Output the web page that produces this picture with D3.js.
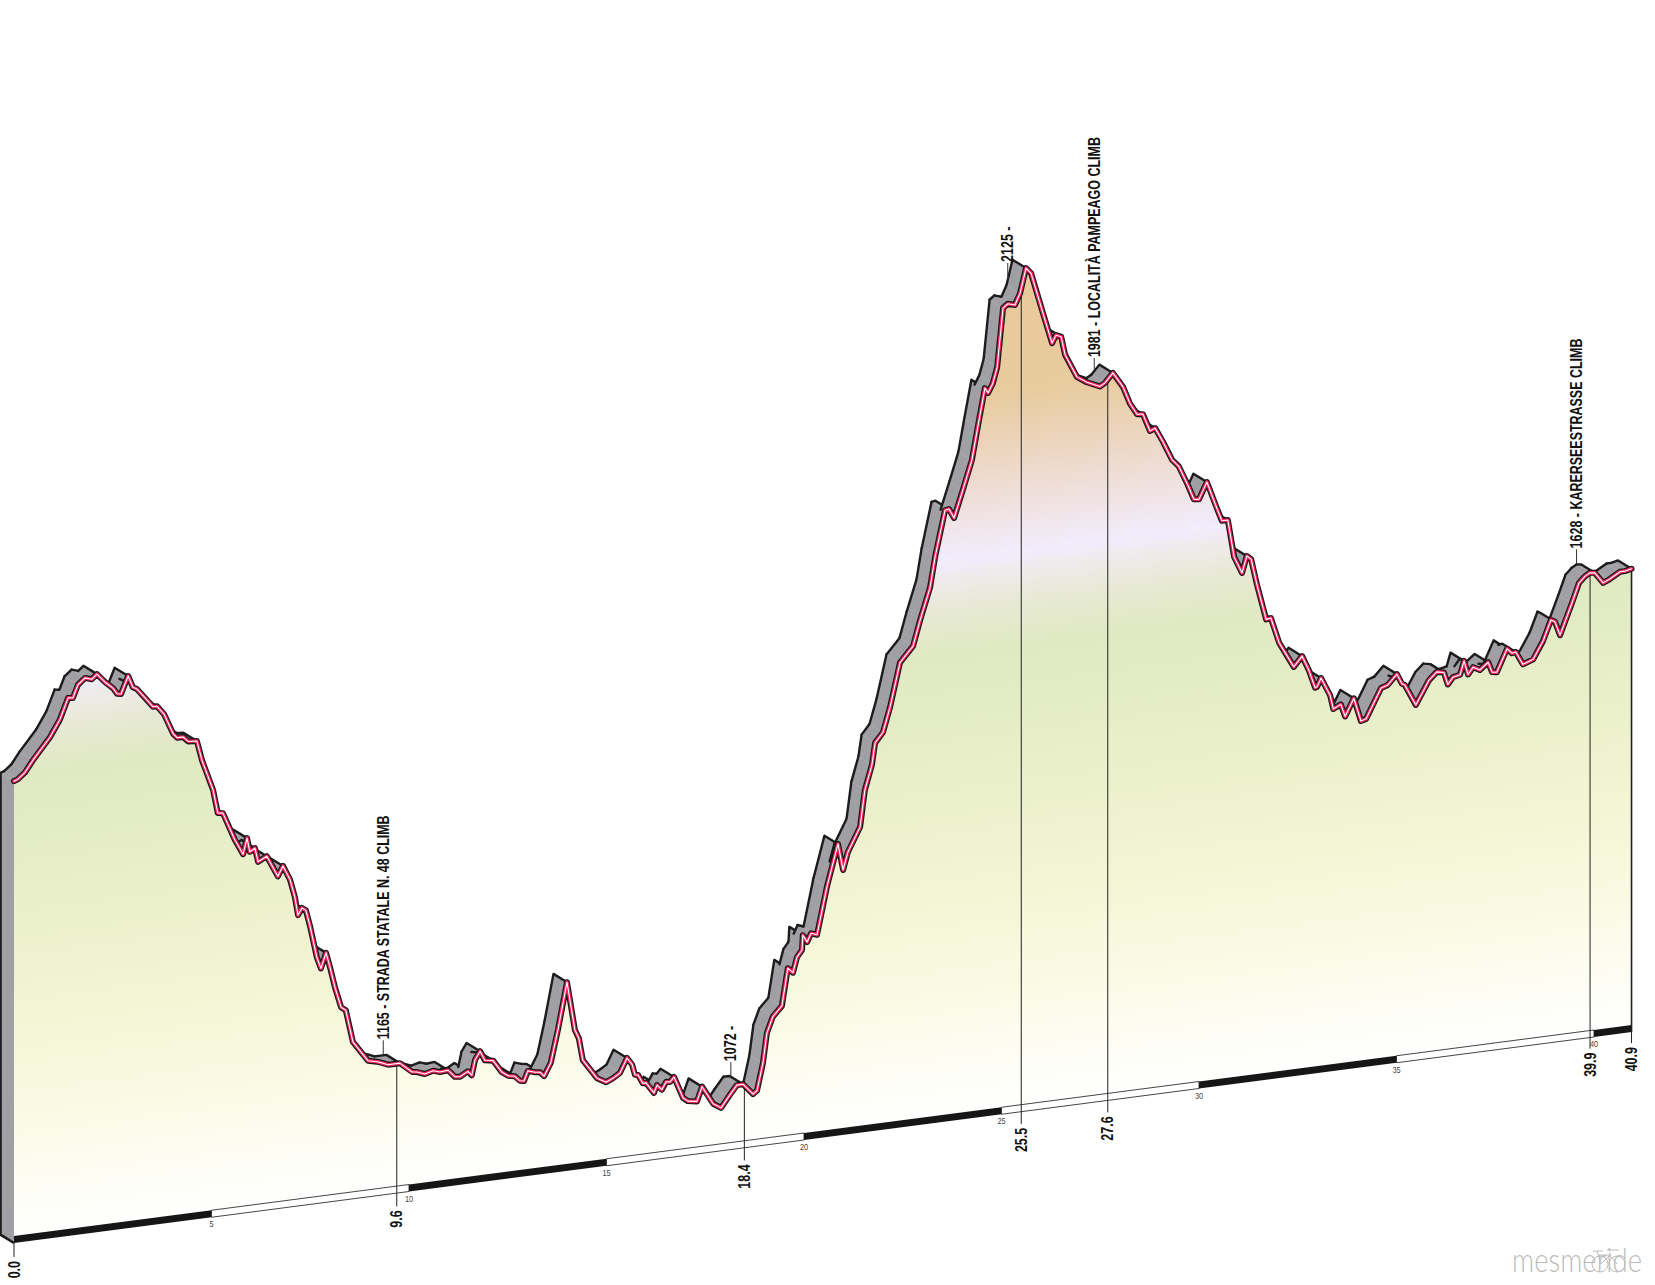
<!DOCTYPE html>
<html>
<head>
<meta charset="utf-8">
<script src="https://cdn.jsdelivr.net/npm/d3@7"></script>
<style>
  body { margin: 0; background: #fff; }
  svg { display: block; }
  text { font-family: "Liberation Sans", sans-serif; }
</style>
</head>
<body>
<svg width="1655" height="1285"></svg>
<script>
// profile
const km = [0,.10,.28,.48,.91,1.16,1.37,1.49,1.62,1.80,1.97,2.10,2.30,2.51,2.61,2.71,2.89,3.01,3.11,3.37,3.52,3.62,3.80,4.03,4.13,4.28,4.41,4.63,4.76,5.04,5.16,5.29,5.59,5.80,5.90,5.97,6.10,6.18,6.40,6.68,6.81,6.99,7.11,7.19,7.29,7.39,7.49,7.67,7.77,7.90,8.00,8.13,8.28,8.40,8.58,8.96,9.19,9.34,9.47,9.77,10.08,10.20,10.40,10.61,10.78,10.99,11.16,11.29,11.49,11.59,11.67,11.80,11.92,12.13,12.35,12.51,12.68,12.81,12.91,13.01,13.19,13.32,13.42,13.59,13.77,14.00,14.20,14.30,14.40,14.76,14.99,15.16,15.34,15.52,15.65,15.72,15.80,15.92,16.00,16.20,16.28,16.40,16.51,16.61,16.71,16.94,17.06,17.29,17.42,17.70,17.90,18.08,18.30,18.46,18.71,18.81,18.96,19.06,19.21,19.44,19.59,19.72,19.82,19.95,19.97,20.08,20.18,20.33,20.58,20.86,20.99,21.11,21.42,21.54,21.72,21.80,22.00,22.18,22.43,22.76,22.94,23.19,23.32,23.57,23.67,23.80,24.02,24.25,24.40,24.58,24.66,24.78,24.89,25.04,25.16,25.34,25.47,25.62,25.75,26.05,26.28,26.38,26.51,26.61,26.91,27.16,27.49,27.62,27.82,28.08,28.25,28.43,28.58,28.76,28.89,29.09,29.32,29.49,29.72,29.87,30.00,30.20,30.43,30.58,30.73,30.89,31.09,31.21,31.32,31.47,31.70,31.82,32.03,32.40,32.61,32.78,32.94,32.99,33.09,33.32,33.40,33.59,33.70,33.92,34.10,34.23,34.61,34.78,35.01,35.14,35.21,35.49,35.82,36.02,36.20,36.30,36.43,36.61,36.71,36.81,36.94,37.11,37.32,37.42,37.54,37.80,37.92,38.02,38.20,38.46,38.71,38.91,39.01,39.14,39.44,39.62,39.77,39.90,40.02,40.23,40.40,40.66,40.78,40.95];
const ele = [1610,1612,1620,1635,1663,1685,1713,1712,1729,1737,1734,1740,1728,1718,1710,1709,1732,1716,1713,1696,1686,1686,1674,1646,1640,1640,1633,1632,1605,1563,1531,1530,1492,1471,1492,1473,1477,1458,1464,1435,1448,1428,1404,1379,1388,1384,1363,1318,1303,1323,1303,1274,1247,1242,1198,1170,1167,1164,1161,1161,1147,1146,1142,1145,1142,1143,1133,1132,1138,1132,1152,1163,1150,1148,1131,1125,1123,1116,1115,1128,1125,1124,1118,1135,1178,1241,1175,1163,1133,1106,1099,1103,1109,1128,1118,1104,1103,1091,1091,1076,1086,1079,1089,1088,1094,1064,1059,1057,1076,1051,1044,1057,1072,1072,1057,1061,1097,1137,1158,1171,1221,1214,1234,1243,1263,1253,1264,1261,1324,1380,1344,1367,1399,1448,1481,1510,1523,1556,1614,1634,1668,1710,1751,1812,1813,1800,1836,1875,1919,1970,1963,1975,1996,2075,2080,2077,2092,2125,2117,2061,2019,2029,2026,2001,1969,1960,1952,1956,1968,1947,1924,1908,1907,1883,1886,1866,1840,1830,1803,1783,1782,1804,1770,1749,1749,1698,1675,1697,1692,1656,1608,1609,1574,1539,1552,1532,1507,1508,1519,1494,1475,1480,1463,1486,1454,1456,1495,1498,1511,1497,1495,1466,1497,1507,1505,1488,1497,1499,1517,1498,1507,1502,1511,1497,1496,1526,1519,1520,1502,1507,1530,1557,1554,1535,1576,1602,1610,1614,1613,1598,1602,1610,1610,1612];

// markers along the route
const markerKm = [0, 9.69, 18.49, 25.5, 27.69, 39.9, 40.95];
const markerText = ["0.0", "9.6", "18.4", "25.5", "27.6", "39.9", "40.9"];
const climbKm = [9.69, 18.49, 25.5, 27.69, 39.9];
const climbText = ["1165 - STRADA STATALE N. 48 CLIMB", "1072 -", "2125 -", "1981 - LOCALITÀ PAMPEAGO CLIMB", "1628 - KARERSEESTRASSE CLIMB"];
const leaderLen = [15, 15, 17, 13, 15];
const kmTicks = [5, 10, 15, 20, 25, 30, 35, 40];
const bandEdges = [0, 5, 10, 15, 20, 25, 30, 35, 40, 40.95];

// hypsometric tint, by elevation
const tintEle = [986, 1067, 1162, 1310, 1459, 1614, 1675, 1716, 1743, 1851, 1959, 2135];
const tintColor = ["#ffffff", "#fdfdf4", "#fafae4", "#f3f4d2", "#e8efc9", "#e0e9c1", "#e7e9d4", "#edebea", "#f2ecfc", "#eedacd", "#e8cb9e", "#e8c99b"];

const svg = d3.select("svg");

// oblique projection: baseline climbs to the right, ridge goes back up-left
const xScale = d3.scaleLinear().domain([0, 40]).range([14, 1594]);
const baseScale = d3.scaleLinear().domain([0, 40]).range([1243, 1037]);
const riseScale = d3.scaleLinear().domain([986, 2125]).range([0, 843]);
const backX = -13.5, backY = -8.3, bandH = 7;
const narrow = 0.78; // no condensed face installed, squeeze the regular one

const yAt = (k, e) => baseScale(k) - riseScale(e);
const pts = km.map((k, i) => [xScale(k), yAt(k, ele[i])]);
const back = p => [p[0] + backX, p[1] + backY];

const bis = d3.bisector(d => d).left;
function eleAt(k) {
  const i = Math.min(Math.max(bis(km, k), 1), km.length - 1);
  const t = (k - km[i - 1]) / (km[i] - km[i - 1]);
  return ele[i - 1] + (ele[i] - ele[i - 1]) * t;
}

const line = d3.line();

// gradient runs square to the baseline so colour bands tilt with it
const slope = (baseScale(0) - baseScale(40)) / (xScale(40) - xScale(0));
const gx0 = xScale(0), gy0 = baseScale(0);
const gLen = riseScale(tintEle[tintEle.length - 1]) / (1 + slope * slope);
const grad = svg.append("defs").append("linearGradient")
  .attr("id", "tint")
  .attr("gradientUnits", "userSpaceOnUse")
  .attr("x1", gx0).attr("y1", gy0)
  .attr("x2", gx0 - slope * gLen).attr("y2", gy0 - gLen);
grad.selectAll("stop").data(tintEle).join("stop")
  .attr("offset", d => riseScale(d) / riseScale(tintEle[tintEle.length - 1]))
  .attr("stop-color", (d, i) => tintColor[i]);

// left wall
const wallTop = pts[0], wallBot = [xScale(0), baseScale(0)];
svg.append("path")
  .attr("d", line([wallTop, back(wallTop), back(wallBot), wallBot]) + "Z")
  .attr("fill", "#a0a0a4");
svg.append("path")
  .attr("d", line([back(wallTop), back(wallBot), wallBot]))
  .attr("fill", "none").attr("stroke", "#1c1c1c").attr("stroke-width", 2.6);

// ridge ribbon, left to right so nearer quads paint over
const ribbon = svg.append("g");
pts.slice(1).forEach((q, i) => {
  const p = pts[i];
  const facing = (q[0] - p[0]) * backY - (q[1] - p[1]) * backX < 0;
  if (!facing) return;
  const next = pts[i + 2];
  const nextFacing = next && (next[0] - q[0]) * backY - (next[1] - q[1]) * backX < 0;
  ribbon.append("path")
    .attr("d", line([p, q, back(q), back(p)]) + "Z")
    .attr("fill", "#a0a0a4").attr("stroke", "#a8a8ab").attr("stroke-width", 0.6);
  const edge = nextFacing ? [back(p), back(q)] : [back(p), back(q), q];
  ribbon.append("path")
    .attr("d", line(edge))
    .attr("fill", "none").attr("stroke", "#1c1c1c")
    .attr("stroke-width", 2.4).attr("stroke-linejoin", "round").attr("stroke-linecap", "round");
});

// front face
const last = km.length - 1;
svg.append("path")
  .attr("d", line(pts.concat([[xScale(km[last]), baseScale(km[last])], [xScale(0), baseScale(0)]])) + "Z")
  .attr("fill", "url(#tint)");

// right edge
svg.append("line")
  .attr("x1", pts[last][0]).attr("x2", pts[last][0])
  .attr("y1", pts[last][1]).attr("y2", baseScale(km[last]))
  .attr("stroke", "#222").attr("stroke-width", 1.6);

// km band
d3.pairs(bandEdges).forEach((pair, i) => {
  const [a, b] = pair;
  const quad = [[xScale(a), baseScale(a)], [xScale(b), baseScale(b)],
                [xScale(b), baseScale(b) - bandH], [xScale(a), baseScale(a) - bandH]];
  svg.append("path")
    .attr("d", line(quad) + "Z")
    .attr("fill", i % 2 ? "#fff" : "#161616")
    .attr("stroke", "#161616").attr("stroke-width", i % 2 ? 0.8 : 0);
});

svg.selectAll(".tick-label").data(kmTicks).join("text")
  .attr("class", "tick-label")
  .attr("transform", d => `translate(${xScale(d)},${baseScale(d) + 10}) scale(${narrow},1)`)
  .attr("text-anchor", "middle")
  .attr("font-size", 9.5)
  .attr("fill", "#444")
  .text(d => d);

// drop lines and km labels
const dropLen = d3.scaleLinear().domain([0, 41]).range([14, 11]);
markerKm.forEach((k, i) => {
  const x = xScale(k);
  const top = i === 0 ? baseScale(k) : yAt(k, eleAt(k));
  const bottom = baseScale(k) + dropLen(k);
  svg.append("line")
    .attr("x1", x).attr("x2", x).attr("y1", top).attr("y2", bottom)
    .attr("stroke", "#222").attr("stroke-width", 1);
  svg.append("text")
    .attr("transform", `translate(${x + 5.5},${bottom + 4}) rotate(-90) scale(${narrow},1)`)
    .attr("text-anchor", "end")
    .attr("font-size", 16).attr("font-weight", 700).attr("fill", "#111")
    .text(markerText[i]);
});

// pink road line: black, pink, white core
[["#161616", 6], ["#f0245f", 3.6], ["#ffffff", 1.1]].forEach(s => {
  svg.append("path")
    .attr("d", line(pts))
    .attr("fill", "none").attr("stroke", s[0]).attr("stroke-width", s[1])
    .attr("stroke-linejoin", "round").attr("stroke-linecap", "round");
});

// climb labels sit on the back ridge
climbKm.forEach((k, i) => {
  const x = xScale(k) + backX;
  const ridge = yAt(k, eleAt(k)) + backY;
  const end = ridge - leaderLen[i];
  svg.append("line")
    .attr("x1", x).attr("x2", x).attr("y1", ridge).attr("y2", end)
    .attr("stroke", "#333").attr("stroke-width", 1);
  svg.append("text")
    .attr("transform", `translate(${x + 5.5},${end - 1}) rotate(-90) scale(${narrow},1)`)
    .attr("font-size", 16).attr("font-weight", 700).attr("fill", "#111")
    .text(climbText[i]);
});

// watermark
const mark = svg.append("g").attr("fill", "none").attr("stroke", "#bdbdbd").attr("stroke-width", 1);
const wm = svg.append("text")
  .attr("font-size", 27).attr("font-weight", 300)
  .attr("fill", "#bcbcbc")
  .style("font-family", "Lato, 'Open Sans', sans-serif")
  .text("mesmeride");
wm.attr("transform", `translate(1512,1272) scale(${130 / wm.node().getComputedTextLength()},1.2)`);
mark.append("circle").attr("cx", 1600).attr("cy", 1264).attr("r", 8);
mark.append("circle").attr("cx", 1617).attr("cy", 1264).attr("r", 8);
mark.append("path").attr("d", "M1593 1251H1603M1597 1251L1601 1264L1610 1255H1598M1610 1255L1617 1264M1609 1252L1611 1255M1607 1250H1619");
</script>
</body>
</html>
